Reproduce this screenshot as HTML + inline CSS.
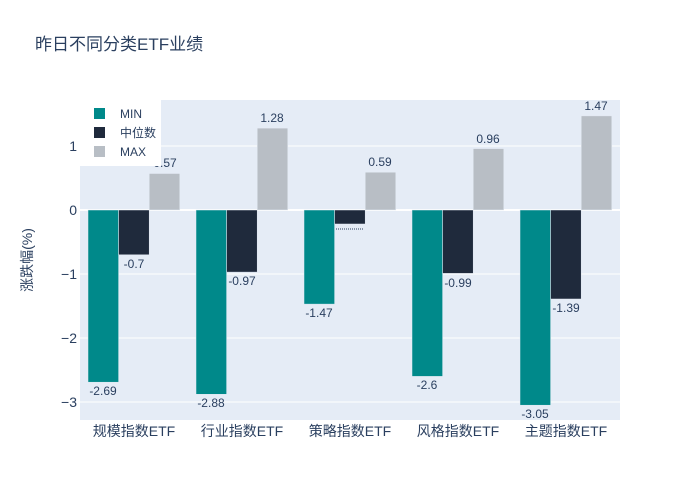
<!DOCTYPE html>
<html><head><meta charset="utf-8"><style>body{margin:0;background:#fff}svg{display:block}text{font-family:"Liberation Sans","Noto Sans CJK SC",sans-serif;fill:#2a3f5f}</style></head><body>
<svg width="700" height="500" xmlns="http://www.w3.org/2000/svg">
<rect x="80" y="100" width="540" height="320" fill="#e5ecf6"/>
<g stroke="#fff" stroke-width="1">
<line x1="80" x2="620" y1="146" y2="146"/><line x1="80" x2="620" y1="274" y2="274"/><line x1="80" x2="620" y1="338" y2="338"/><line x1="80" x2="620" y1="402" y2="402"/>
</g>
<line x1="80" x2="620" y1="210" y2="210" stroke="#fff" stroke-width="2"/>
<g font-size="14" text-anchor="end">
<text x="77" y="151">1</text><text x="77" y="215">0</text><text x="77" y="279">−1</text><text x="77" y="343">−2</text><text x="77" y="407">−3</text>
</g>
<g stroke="#e5ecf6" stroke-width="0.5">
<rect x="88" y="210" width="30.6" height="172.2" fill="#00898a"/>
<rect x="118.6" y="210" width="30.6" height="44.8" fill="#1f2a3c"/>
<rect x="149.2" y="173.5" width="30.6" height="36.5" fill="#b8bec5"/>
<rect x="196" y="210" width="30.6" height="184.3" fill="#00898a"/>
<rect x="226.6" y="210" width="30.6" height="62.1" fill="#1f2a3c"/>
<rect x="257.2" y="128.1" width="30.6" height="81.9" fill="#b8bec5"/>
<rect x="304" y="210" width="30.6" height="94.1" fill="#00898a"/>
<rect x="334.6" y="210" width="30.6" height="14" fill="#1f2a3c"/>
<rect x="365.2" y="172.2" width="30.6" height="37.8" fill="#b8bec5"/>
<rect x="412" y="210" width="30.6" height="166.4" fill="#00898a"/>
<rect x="442.6" y="210" width="30.6" height="63.4" fill="#1f2a3c"/>
<rect x="473.2" y="148.6" width="30.6" height="61.4" fill="#b8bec5"/>
<rect x="520" y="210" width="30.6" height="195.2" fill="#00898a"/>
<rect x="550.6" y="210" width="30.6" height="89" fill="#1f2a3c"/>
<rect x="581.2" y="115.9" width="30.6" height="94.1" fill="#b8bec5"/>
</g>
<line x1="336" x2="364" y1="229" y2="229" stroke="#2a3f5f" stroke-width="1" stroke-dasharray="1,1"/>
<g font-size="12" text-anchor="middle">
<text x="103" y="395">-2.69</text><text x="134" y="268">-0.7</text><text x="165" y="167">0.57</text>
<text x="211" y="407">-2.88</text><text x="242" y="285">-0.97</text><text x="272" y="122">1.28</text>
<text x="319" y="317">-1.47</text><text x="380" y="166">0.59</text>
<text x="427" y="389">-2.6</text><text x="458" y="287">-0.99</text><text x="488" y="143">0.96</text>
<text x="535" y="418">-3.05</text><text x="566" y="312">-1.39</text><text x="596" y="110">1.47</text>
</g>
<rect x="80" y="100" width="81" height="66" fill="#fff"/>
<rect x="94" y="108" width="11" height="11" fill="#00898a"/><text x="120" y="118" font-size="12">MIN</text>
<rect x="94" y="127" width="11" height="11" fill="#1f2a3c"/><text x="120" y="137" font-size="12">中位数</text>
<rect x="94" y="146" width="11" height="11" fill="#b8bec5"/><text x="120" y="156" font-size="12">MAX</text>
<g font-size="14" text-anchor="middle">
<text x="134" y="436">规模指数ETF</text><text x="242" y="436">行业指数ETF</text><text x="350" y="436">策略指数ETF</text><text x="458" y="436">风格指数ETF</text><text x="566" y="436">主题指数ETF</text>
</g>
<text x="32" y="260" font-size="14" text-anchor="middle" transform="rotate(-90 32 260)">涨跌幅(%)</text>
<text x="35" y="50" font-size="17">昨日不同分类ETF业绩</text>
</svg>
</body></html>
